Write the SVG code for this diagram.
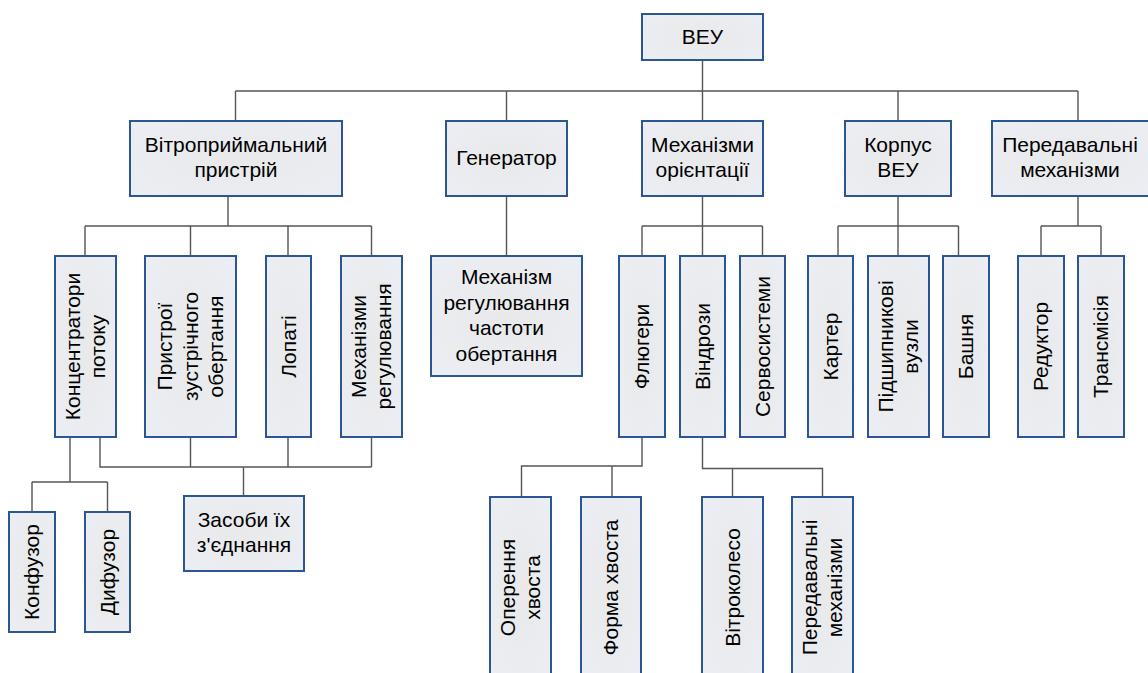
<svg xmlns="http://www.w3.org/2000/svg" width="1148" height="673" viewBox="0 0 1148 673">
<defs>
<radialGradient id="g" cx="50%" cy="50%" r="70%">
<stop offset="0" stop-color="#e9e9ea"/>
<stop offset="1" stop-color="#ebeef4"/>
</radialGradient>
</defs>
<style>
rect{fill:url(#g);stroke:#2c5593;stroke-width:2}
text{font-family:"Liberation Sans",Arial,sans-serif;font-size:21px;fill:#000;text-anchor:middle}
.c path{fill:none;stroke:#555;stroke-width:1.4}
</style>
<rect x="0" y="0" width="1148" height="673" style="fill:#fff;stroke:none"/>
<g class="c" id="connectors">
<path d="M702.5,60V91M235.5,91H1078M235.5,91V121M506.5,91V121M702.5,91V121M898,91V121M1078,91V121"/>
<path d="M228,196V226M85,226H371.5M85,226V256M190.5,226V256M288,226V256M371.5,226V256"/>
<path d="M506.5,196V256"/>
<path d="M702.5,196V256M642,226H762.5M642,226V256M762.5,226V256"/>
<path d="M898,196V256M838,226H958.5M838,226V256M958.5,226V256"/>
<path d="M1078,196V226M1041,226H1101M1041,226V256M1101,226V256"/>
<path d="M70,437V482M32,482H107.5M32,482V512M107.5,482V512"/>
<path d="M100,437V467H371.5M190.5,437V467M288,437V467M371.5,437V467M243.5,467V496"/>
<path d="M642,437V466H521.5V497M612,466V497"/>
<path d="M702.5,437V468.5H822.5V497M732.5,468.5V497"/>
</g>
<g id="veu"><rect x="642" y="14" width="121" height="46"/><text x="702.5" y="44">ВЕУ</text></g>
<g id="vitropryim"><rect x="130" y="121" width="212" height="75"/><text x="236" y="152">Вітроприймальний</text><text x="236" y="177">пристрій</text></g>
<g id="generator"><rect x="446" y="121" width="121" height="75"/><text x="506.5" y="165">Генератор</text></g>
<g id="mekh-orient"><rect x="642" y="121" width="121" height="75"/><text x="702.5" y="152">Механізми</text><text x="702.5" y="177">орієнтації</text></g>
<g id="korpus"><rect x="845" y="121" width="106" height="75"/><text x="898" y="152">Корпус</text><text x="898" y="177">ВЕУ</text></g>
<g id="peredav"><rect x="992" y="121" width="158" height="75"/><text x="1070" y="152">Передавальні</text><text x="1070" y="177">механізми</text></g>

<g id="koncentr"><rect x="55" y="256" width="61" height="181"/><text transform="translate(85.5,346.5) rotate(-90)"><tspan x="0" y="-6">Концентратори</tspan><tspan x="0" y="19.5">потоку</tspan></text></g>
<g id="prystroi"><rect x="145" y="256" width="91" height="181"/><text transform="translate(190.5,346.5) rotate(-90)"><tspan x="0" y="-18.5">Пристрої</tspan><tspan x="0" y="7">зустрічного</tspan><tspan x="0" y="32.5">обертання</tspan></text></g>
<g id="lopati"><rect x="266" y="256" width="45" height="181"/><text transform="translate(288.5,346.5) rotate(-90)" y="7">Лопаті</text></g>
<g id="mekh-reg"><rect x="341" y="256" width="61" height="181"/><text transform="translate(371.5,346.5) rotate(-90)"><tspan x="0" y="-6">Механізми</tspan><tspan x="0" y="19.5">регулювання</tspan></text></g>
<g id="mekh-chast"><rect x="431" y="256" width="151" height="120"/><text x="506.5" y="284">Механізм</text><text x="506.5" y="309.5">регулювання</text><text x="506.5" y="335">частоти</text><text x="506.5" y="360.5">обертання</text></g>
<g id="flugery"><rect x="619" y="256" width="46" height="181"/><text transform="translate(642,346.5) rotate(-90)" y="7">Флюгери</text></g>
<g id="vindrozy"><rect x="680" y="256" width="45" height="181"/><text transform="translate(702.5,346.5) rotate(-90)" y="7">Віндрози</text></g>
<g id="servo"><rect x="740" y="256" width="45" height="181"/><text transform="translate(762.5,346.5) rotate(-90)" y="7">Сервосистеми</text></g>
<g id="karter"><rect x="808" y="256" width="45" height="181"/><text transform="translate(830.5,346.5) rotate(-90)" y="7">Картер</text></g>
<g id="pidshyp"><rect x="868" y="256" width="61" height="181"/><text transform="translate(898.5,346.5) rotate(-90)"><tspan x="0" y="-6">Підшипникові</tspan><tspan x="0" y="19.5">вузли</tspan></text></g>
<g id="bashnya"><rect x="943" y="256" width="46" height="181"/><text transform="translate(966,346.5) rotate(-90)" y="7">Башня</text></g>
<g id="reduktor"><rect x="1018" y="256" width="46" height="181"/><text transform="translate(1041,346.5) rotate(-90)" y="7">Редуктор</text></g>
<g id="transmisiya"><rect x="1078" y="256" width="46" height="181"/><text transform="translate(1101,346.5) rotate(-90)" y="7">Трансмісія</text></g>

<g id="konfuzor"><rect x="9" y="512" width="46" height="120"/><text transform="translate(32,572) rotate(-90)" y="7">Конфузор</text></g>
<g id="dyfuzor"><rect x="85" y="512" width="45" height="120"/><text transform="translate(107.5,572) rotate(-90)" y="7">Дифузор</text></g>
<g id="zasoby"><rect x="184" y="496" width="120" height="75"/><text x="244" y="527">Засоби їх</text><text x="244" y="552">з'єднання</text></g>
<g id="operennya"><rect x="490" y="497" width="61" height="181"/><text transform="translate(520.5,587.5) rotate(-90)"><tspan x="0" y="-6">Оперення</tspan><tspan x="0" y="19.5">хвоста</tspan></text></g>
<g id="forma"><rect x="581" y="497" width="60" height="181"/><text transform="translate(611,587.5) rotate(-90)" y="7">Форма хвоста</text></g>
<g id="vitrokoleso"><rect x="702" y="497" width="61" height="181"/><text transform="translate(732.5,587.5) rotate(-90)" y="7">Вітроколесо</text></g>
<g id="peredav2"><rect x="792" y="497" width="61" height="181"/><text transform="translate(822.5,587.5) rotate(-90)"><tspan x="0" y="-6">Передавальні</tspan><tspan x="0" y="19.5">механізми</tspan></text></g>
</svg>
